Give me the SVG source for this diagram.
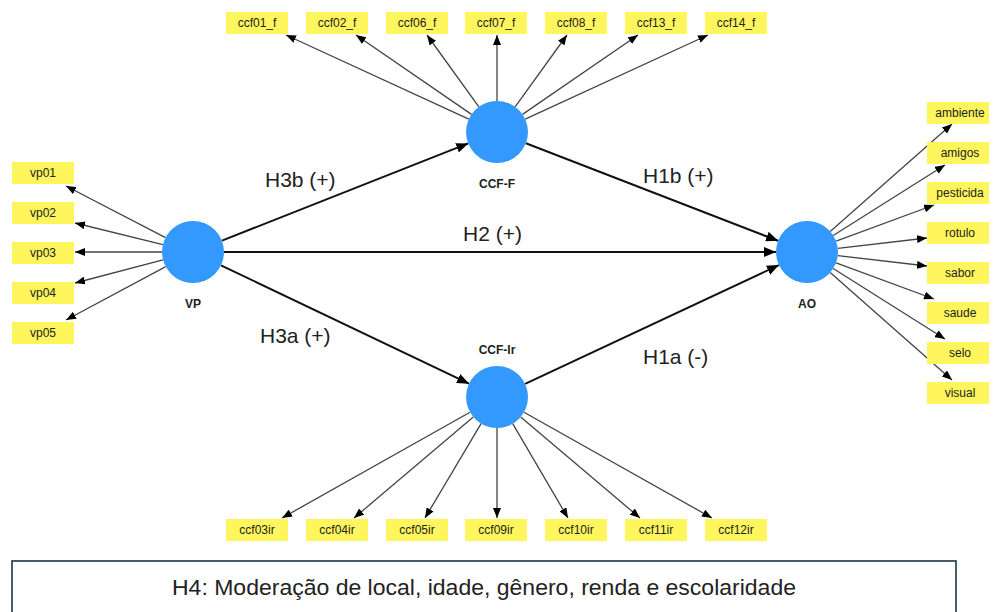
<svg xmlns="http://www.w3.org/2000/svg" width="993" height="612" viewBox="0 0 993 612">
<style>
.lv{fill:#3399FF}
.nl{font-family:"Liberation Sans",Arial,sans-serif;font-weight:bold;font-size:12px;fill:#222;text-anchor:middle}
.bx{fill:#FFF55C}
.bt{font-family:"Liberation Sans",Arial,sans-serif;font-size:12px;fill:#222;text-anchor:middle}
.ind{stroke:#444;stroke-width:1.3;fill:none;marker-end:url(#ah)}
.main{stroke:#111;stroke-width:2;fill:none;marker-end:url(#am)}
.hl{font-family:"Liberation Sans",Arial,sans-serif;font-size:21px;fill:#222}
</style>
<defs>
<marker id="ah" markerUnits="userSpaceOnUse" markerWidth="10" markerHeight="8" refX="10" refY="4" orient="auto"><path d="M0,0 L10,4 L0,8 z" fill="#000"/></marker>
<marker id="am" markerUnits="userSpaceOnUse" markerWidth="12" markerHeight="10" refX="12" refY="5" orient="auto"><path d="M0,0 L12,5 L0,10 z" fill="#000"/></marker>
</defs>
<rect width="993" height="612" fill="#fff"/>
<g id="connectors">
<line class="main" x1="222" y1="240.6" x2="468.2" y2="143.4"/>
<line class="main" x1="224" y1="252" x2="776" y2="252"/>
<line class="main" x1="221" y1="265.3" x2="469" y2="383.7"/>
<line class="main" x1="525.9" y1="143.2" x2="778.1" y2="240.8"/>
<line class="main" x1="525.1" y1="383.9" x2="778.9" y2="265.1"/>
<line class="ind" x1="468.8" y1="119.1" x2="286" y2="35"/>
<line class="ind" x1="471.5" y1="114.4" x2="356" y2="35"/>
<line class="ind" x1="478.9" y1="106.9" x2="427" y2="35"/>
<line class="ind" x1="497" y1="101" x2="497" y2="35"/>
<line class="ind" x1="515.1" y1="106.9" x2="567" y2="35"/>
<line class="ind" x1="522.5" y1="114.4" x2="638" y2="35"/>
<line class="ind" x1="525.2" y1="119.1" x2="708" y2="35"/>
<line class="ind" x1="470" y1="412.2" x2="282" y2="518"/>
<line class="ind" x1="473.3" y1="417" x2="354" y2="518"/>
<line class="ind" x1="481.1" y1="423.6" x2="425" y2="518"/>
<line class="ind" x1="497" y1="428" x2="497" y2="518"/>
<line class="ind" x1="512.7" y1="423.7" x2="568" y2="518"/>
<line class="ind" x1="520.7" y1="417" x2="640" y2="518"/>
<line class="ind" x1="524" y1="412.2" x2="712" y2="518"/>
<line class="ind" x1="165.5" y1="237.7" x2="66" y2="186"/>
<line class="ind" x1="162.9" y1="244.6" x2="75" y2="223"/>
<line class="ind" x1="162" y1="252" x2="75" y2="252"/>
<line class="ind" x1="163" y1="259.9" x2="75" y2="283"/>
<line class="ind" x1="165.7" y1="266.6" x2="66" y2="320"/>
<line class="ind" x1="830.2" y1="231.5" x2="952" y2="124"/>
<line class="ind" x1="833.2" y1="235.5" x2="945" y2="165"/>
<line class="ind" x1="836.1" y1="241.2" x2="934" y2="205"/>
<line class="ind" x1="837.8" y1="248.4" x2="927" y2="238"/>
<line class="ind" x1="837.8" y1="255.6" x2="927" y2="266"/>
<line class="ind" x1="836.1" y1="262.8" x2="934" y2="299"/>
<line class="ind" x1="833.2" y1="268.5" x2="945" y2="339"/>
<line class="ind" x1="830.2" y1="272.5" x2="952" y2="380"/>
</g>
<g id="edge-labels">
<text class="hl" x="265" y="187">H3b (+)</text>
<text class="hl" x="463" y="241">H2 (+)</text>
<text class="hl" x="260" y="343">H3a (+)</text>
<text class="hl" x="643" y="183">H1b (+)</text>
<text class="hl" x="643" y="364">H1a (-)</text>
</g>
<g id="VP"><circle class="lv" cx="193" cy="252" r="31"/><text class="nl" x="193" y="308">VP</text></g>
<g id="AO"><circle class="lv" cx="807" cy="252" r="31"/><text class="nl" x="807" y="308">AO</text></g>
<g id="CCF-F"><circle class="lv" cx="497" cy="132" r="31"/><text class="nl" x="497" y="188">CCF-F</text></g>
<g id="CCF-Ir"><circle class="lv" cx="497" cy="397" r="31"/><text class="nl" x="497" y="354">CCF-Ir</text></g>
<g id="ccf01_f"><rect class="bx" x="226" y="12" width="62" height="22"/><text class="bt" x="257" y="27">ccf01_f</text></g>
<g id="ccf02_f"><rect class="bx" x="306" y="12" width="62" height="22"/><text class="bt" x="337" y="27">ccf02_f</text></g>
<g id="ccf06_f"><rect class="bx" x="386" y="12" width="62" height="22"/><text class="bt" x="417" y="27">ccf06_f</text></g>
<g id="ccf07_f"><rect class="bx" x="465" y="12" width="62" height="22"/><text class="bt" x="496" y="27">ccf07_f</text></g>
<g id="ccf08_f"><rect class="bx" x="545" y="12" width="62" height="22"/><text class="bt" x="576" y="27">ccf08_f</text></g>
<g id="ccf13_f"><rect class="bx" x="625" y="12" width="62" height="22"/><text class="bt" x="656" y="27">ccf13_f</text></g>
<g id="ccf14_f"><rect class="bx" x="705" y="12" width="62" height="22"/><text class="bt" x="736" y="27">ccf14_f</text></g>
<g id="ccf03ir"><rect class="bx" x="226" y="519" width="62" height="22"/><text class="bt" x="257" y="534">ccf03ir</text></g>
<g id="ccf04ir"><rect class="bx" x="306" y="519" width="62" height="22"/><text class="bt" x="337" y="534">ccf04ir</text></g>
<g id="ccf05ir"><rect class="bx" x="386" y="519" width="62" height="22"/><text class="bt" x="417" y="534">ccf05ir</text></g>
<g id="ccf09ir"><rect class="bx" x="465" y="519" width="62" height="22"/><text class="bt" x="496" y="534">ccf09ir</text></g>
<g id="ccf10ir"><rect class="bx" x="545" y="519" width="62" height="22"/><text class="bt" x="576" y="534">ccf10ir</text></g>
<g id="ccf11ir"><rect class="bx" x="625" y="519" width="62" height="22"/><text class="bt" x="656" y="534">ccf11ir</text></g>
<g id="ccf12ir"><rect class="bx" x="705" y="519" width="62" height="22"/><text class="bt" x="736" y="534">ccf12ir</text></g>
<g id="vp01"><rect class="bx" x="12" y="162" width="62" height="22"/><text class="bt" x="43" y="177">vp01</text></g>
<g id="vp02"><rect class="bx" x="12" y="202" width="62" height="22"/><text class="bt" x="43" y="217">vp02</text></g>
<g id="vp03"><rect class="bx" x="12" y="242" width="62" height="22"/><text class="bt" x="43" y="257">vp03</text></g>
<g id="vp04"><rect class="bx" x="12" y="282" width="62" height="22"/><text class="bt" x="43" y="297">vp04</text></g>
<g id="vp05"><rect class="bx" x="12" y="322" width="62" height="22"/><text class="bt" x="43" y="337">vp05</text></g>
<g id="ambiente"><rect class="bx" x="927" y="102" width="62" height="22"/><text class="bt" x="960" y="117">ambiente</text></g>
<g id="amigos"><rect class="bx" x="927" y="142" width="62" height="22"/><text class="bt" x="960" y="157">amigos</text></g>
<g id="pesticida"><rect class="bx" x="927" y="182" width="62" height="22"/><text class="bt" x="960" y="197">pesticida</text></g>
<g id="rotulo"><rect class="bx" x="927" y="222" width="62" height="22"/><text class="bt" x="960" y="237">rotulo</text></g>
<g id="sabor"><rect class="bx" x="927" y="262" width="62" height="22"/><text class="bt" x="960" y="277">sabor</text></g>
<g id="saude"><rect class="bx" x="927" y="302" width="62" height="22"/><text class="bt" x="960" y="317">saude</text></g>
<g id="selo"><rect class="bx" x="927" y="342" width="62" height="22"/><text class="bt" x="960" y="357">selo</text></g>
<g id="visual"><rect class="bx" x="927" y="382" width="62" height="22"/><text class="bt" x="960" y="397">visual</text></g>
<g id="H4">
<rect x="12" y="561" width="944" height="70" fill="#fff" stroke="#1c3446" stroke-width="1.6"/>
<text x="484" y="595" font-family="Liberation Sans, Arial, sans-serif" font-size="22" fill="#222" text-anchor="middle" textLength="624" lengthAdjust="spacingAndGlyphs">H4: Moderação de local, idade, gênero, renda e escolaridade</text>
</g>
</svg>
